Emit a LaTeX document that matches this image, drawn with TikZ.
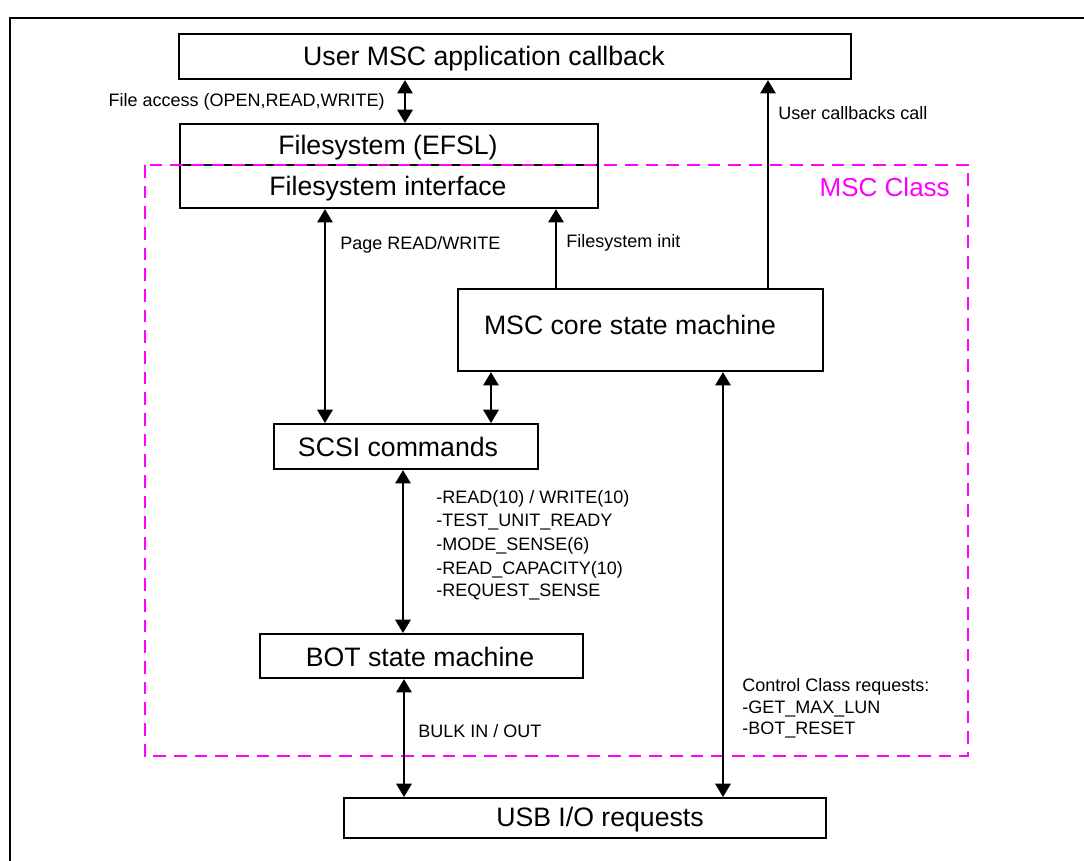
\documentclass[tikz,border=0pt]{standalone}
\usepackage{fontspec}
\setmainfont{Liberation Sans}
\usetikzlibrary{arrows.meta}
\definecolor{mag}{RGB}{255,0,255}
\begin{document}
\begin{tikzpicture}[x=0.75pt,y=-0.75pt,
  box/.style={draw=black, line width=1.6pt, inner sep=0pt, anchor=north west},
  big/.style={font=\fontsize{20}{24}\selectfont, inner sep=0pt, text height=14.3pt, text depth=0pt},
  small/.style={font=\fontsize{13.5}{16}\selectfont, inner sep=0pt, text height=9.7pt, text depth=0pt, anchor=west},
  conn/.style={line width=1.6pt},
  uni/.style={conn, -{Triangle[width=11.5pt,length=10pt]}},
  bi/.style={conn, {Triangle[width=11.5pt,length=10pt]}-{Triangle[width=11.5pt,length=10pt]}},
  classbox/.style={draw=mag, line width=2pt, dash pattern=on 9.5pt off 6pt}
]
\useasboundingbox (0,0) rectangle (1084,860);
% outer frame
\draw[line width=2pt] (10,862) -- (10,18) -- (1086,18);

% boxes
\node[box, minimum width=504pt, minimum height=33.75pt] (user) at (178,33) {};
\node[big] (usertext) at (484,56) {User MSC application callback};

\node[box, minimum width=313.5pt, minimum height=63pt] (fs) at (179,123) {};
\node[big] (fstext) at (388,145) {Filesystem (EFSL)};
\node[big] (fitext) at (388,186) {Filesystem interface};
\draw[line width=1.6pt] (fs.west |- 0,165) -- (fs.east |- 0,165);

% MSC class region
\draw[classbox] (145,165) rectangle (968,756);
\node[big, font=\fontsize{19.5}{23}\selectfont, text=mag, anchor=east] (classlbl) at (950,187) {MSC Class};

\node[box, minimum width=273.75pt, minimum height=61.5pt] (core) at (457,288) {};
\node[big] (coretext) at (630,325) {MSC core state machine};

\node[box, minimum width=198pt, minimum height=33.75pt] (scsi) at (273,423) {};
\node[big] (scsitext) at (398,447) {SCSI commands};

\node[box, minimum width=242.25pt, minimum height=33pt] (bot) at (259,633) {};
\node[big] (bottext) at (420,657) {BOT state machine};

\node[box, minimum width=361.5pt, minimum height=30pt] (usb) at (343,797) {};
\node[big] (usbtext) at (600,817) {USB I/O requests};

% x positions of connectors
\coordinate (xfa) at (405,0);
\coordinate (xcb) at (768,0);
\coordinate (xfi) at (556,0);
\coordinate (xpg) at (325,0);
\coordinate (xcs) at (491,0);
\coordinate (xct) at (723,0);
\coordinate (xsb) at (403,0);
\coordinate (xbu) at (404,0);

% connectors
\draw[bi] (user.south -| xfa) -- (fs.north -| xfa);
\draw[uni] (core.north -| xcb) -- (user.south -| xcb);
\draw[uni] (core.north -| xfi) -- (fs.south -| xfi);
\draw[bi] (fs.south -| xpg) -- (scsi.north -| xpg);
\draw[bi] (core.south -| xcs) -- (scsi.north -| xcs);
\draw[bi] (core.south -| xct) -- (usb.north -| xct);
\draw[bi] (scsi.south -| xsb) -- (bot.north -| xsb);
\draw[bi] (bot.south -| xbu) -- (usb.north -| xbu);

% labels
\node[small, anchor=east] (lfa) at (385,100) {File access (OPEN,READ,WRITE)};
\node[small] (lcb) at (778,113) {User callbacks call};
\node[small] (lfi) at (566,241) {Filesystem init};
\node[small] (lpg) at (340,243) {Page READ/WRITE};
\node[small] (l1) at (436,497) {-READ(10) / WRITE(10)};
\node[small] (l2) at (436,520) {-TEST\_UNIT\_READY};
\node[small] (l3) at (436,544) {-MODE\_SENSE(6)};
\node[small] (l4) at (436,568) {-READ\_CAPACITY(10)};
\node[small] (l5) at (436,590) {-REQUEST\_SENSE};
\node[small] (lbu) at (418,731) {BULK IN / OUT};
\node[small] (c1) at (742,685) {Control Class requests:};
\node[small] (c2) at (742,707) {-GET\_MAX\_LUN};
\node[small] (c3) at (742,728) {-BOT\_RESET};
\end{tikzpicture}
\end{document}
